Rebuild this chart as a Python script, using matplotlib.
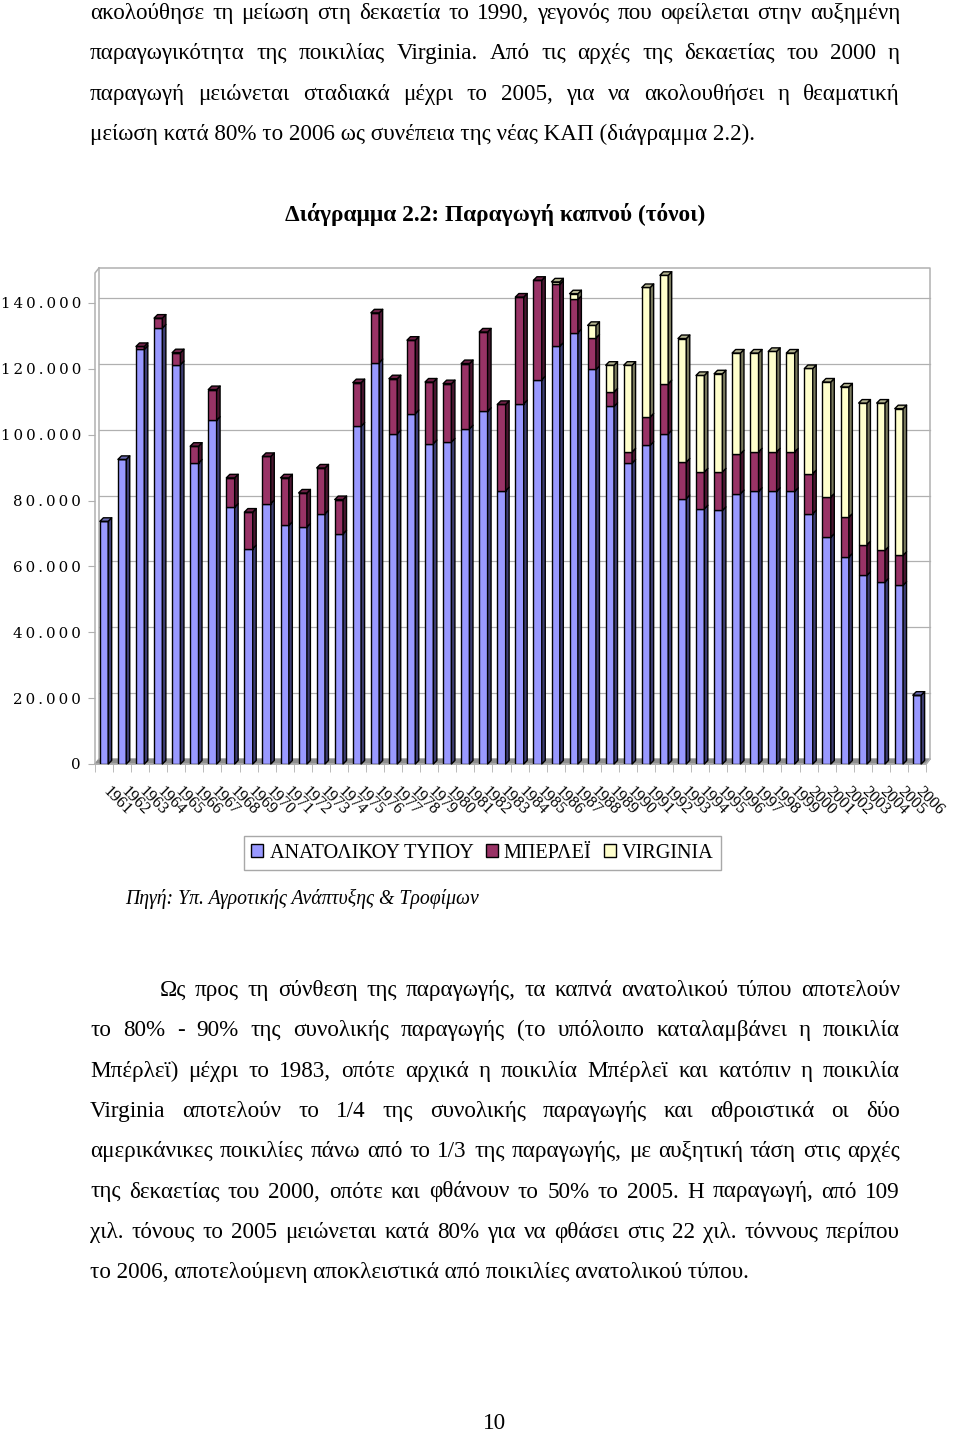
import numpy as np
import matplotlib
matplotlib.use("Agg")
import matplotlib.pyplot as plt
from matplotlib.patches import Patch
from matplotlib.collections import PolyCollection
from matplotlib.transforms import ScaledTranslation

# --- data (tonnes) ---
years = list(range(1961, 2007))
eastern = [73700, 92500, 125900, 132400, 121300, 91400, 104400, 78000, 65400, 79100,
           72500, 72000, 76000, 69900, 102600, 121900, 100300, 106400, 97300, 97800,
           101800, 107100, 83000, 109400, 116700, 126900, 131000, 119800, 108600, 91400,
           96800, 100300, 80600, 77500, 77000, 82100, 82800, 82800, 82800, 76000,
           68900, 62900, 57300, 55300, 54300, 20900]
burley = [0, 0, 900, 3000, 3600, 5100, 9300, 8900, 11100, 14300,
          14400, 10300, 13900, 10400, 13200, 15100, 16700, 22300, 18700, 17700,
          19800, 24100, 26200, 32400, 30200, 18800, 10100, 9600, 4400, 3400,
          8600, 15200, 11100, 11200, 11700, 12100, 12000, 12000, 12000, 12200,
          12200, 12100, 9300, 9600, 9100, 0]
virginia = [0] * 25 + [700, 1700, 3800, 8100, 26300,
                       39300, 32900, 37500, 29300, 29800, 30600, 30000, 30500, 30000, 31900,
                       34900, 39500, 43000, 44700, 44500, 0]
series_names = ["ΑΝΑΤΟΛΙΚΟΥ ΤΥΠΟΥ", "ΜΠΕΡΛΕΪ", "VIRGINIA"]
front_cols = ["#9999FF", "#993366", "#FFFFCC"]
side_cols = ["#3d3d73", "#4a1530", "#7a7a5e"]
top_cols = ["#6b6bb3", "#6e2247", "#b3b38f"]
yticks = list(range(0, 140001, 20000))

para1 = [
    ("ακολούθησε τη μείωση στη δεκαετία το 1990, γεγονός που οφείλεται στην αυξημένη", True),
    ("παραγωγικότητα της ποικιλίας Virginia. Από τις αρχές της δεκαετίας του 2000 η", True),
    ("παραγωγή μειώνεται σταδιακά μέχρι το 2005, για να ακολουθήσει η θεαματική", True),
    ("μείωση κατά 80% το 2006 ως συνέπεια της νέας ΚΑΠ (διάγραμμα 2.2).", False),
]
para2 = [
    ("Ως προς τη σύνθεση της παραγωγής, τα καπνά ανατολικού τύπου αποτελούν", True),
    ("το 80% - 90% της συνολικής παραγωγής (το υπόλοιπο καταλαμβάνει η ποικιλία", True),
    ("Μπέρλεϊ) μέχρι το 1983, οπότε αρχικά η ποικιλία Μπέρλεϊ και κατόπιν η ποικιλία", True),
    ("Virginia αποτελούν το 1/4 της συνολικής παραγωγής και αθροιστικά οι δύο", True),
    ("αμερικάνικες ποικιλίες πάνω από το 1/3 της παραγωγής, με αυξητική τάση στις αρχές", True),
    ("της δεκαετίας του 2000, οπότε και φθάνουν το 50% το 2005. Η παραγωγή, από 109", True),
    ("χιλ. τόνους το 2005 μειώνεται κατά 80% για να φθάσει στις 22 χιλ. τόννους περίπου", True),
    ("το 2006, αποτελούμενη αποκλειστικά από ποικιλίες ανατολικού τύπου.", False),
]
title = "Διάγραμμα 2.2: Παραγωγή καπνού (τόνοι)"
source = "Πηγή: Υπ. Αγροτικής Ανάπτυξης & Τροφίμων"

W, H = 960, 1433
SERIF = "Liberation Serif"
BODY = 16.7

fig = plt.figure(figsize=(W / 100, H / 100), dpi=100)
page = fig.add_axes([0, 0, 1, 1])
page.set_xlim(0, W)
page.set_ylim(H, 0)
page.axis("off")
renderer = fig.canvas.get_renderer()


def put_line(s, y, x0, x1, justify):
    if not justify:
        page.text(x0, y, s, family=SERIF, fontsize=BODY, va="baseline")
        return
    words = s.split()
    txts = [page.text(0, y, w, family=SERIF, fontsize=BODY, va="baseline") for w in words]
    widths = [t.get_window_extent(renderer).width for t in txts]
    gap = (x1 - x0 - sum(widths)) / (len(words) - 1)
    x = x0
    for t, w in zip(txts, widths):
        t.set_x(x)
        x += w + gap


for i, (s, j) in enumerate(para1):
    put_line(s, 19 + i * 40.3, 90, 900, j)
for i, (s, j) in enumerate(para2):
    put_line(s, 996 + i * 40.3, 160 if i == 0 else 90, 900, j)

page.text(495, 221, title, family=SERIF, fontsize=16.8, weight="bold", ha="center", va="baseline")
page.text(125, 904, source, family=SERIF, fontsize=14.2, style="italic", va="baseline")
page.text(495, 1429, "10", family=SERIF, fontsize=BODY, ha="center", va="baseline")

# --- chart (pseudo 3D like the Excel original) ---
L, R, T, B = 95, 926, 273, 764
ax = fig.add_axes([L / W, 1 - B / H, (R - L) / W, (B - T) / H])
ax.patch.set_alpha(0)
n = len(years)
YMAX = 149100
ax.set_xlim(-0.5, n - 0.5)
ax.set_ylim(0, YMAX)
for sp in ax.spines.values():
    sp.set_visible(False)

ux = n / (R - L)          # data units per pixel
uy = YMAX / (B - T)
wdx, wdy = 4 * ux, 5 * uy   # back wall offset
bdx, bdy = 3.5 * ux, 3.5 * uy  # bar depth
grid_c = "#b0b0b0"

# walls, floor and gridlines
xl, xr = -0.5, n - 0.5
ax.fill([xl, xr, xr + wdx, xl + wdx], [0, 0, wdy, wdy], color="#8f8f8f", zorder=1, clip_on=False)
for v in yticks[1:]:
    ax.plot([xl + wdx, xr + wdx], [v + wdy] * 2, color=grid_c, lw=0.9, zorder=0, clip_on=False)
ax.plot([xl + wdx, xr + wdx, xr + wdx], [YMAX + wdy, YMAX + wdy, wdy], color=grid_c, lw=1.1, clip_on=False)
ax.plot([xl + wdx, xl + wdx], [wdy, YMAX + wdy], color=grid_c, lw=1.1, clip_on=False)
ax.plot([xl, xl, xl + wdx], [0, YMAX, YMAX + wdy], color=grid_c, lw=1.1, clip_on=False)
ax.plot([xl, xr, xr + wdx], [0, 0, wdy], color=grid_c, lw=1.1, clip_on=False)

x = np.arange(n)
bw = 0.46
vals = [np.array(eastern), np.array(burley), np.array(virginia)]
bottoms = [np.zeros(n), vals[0], vals[0] + vals[1]]
total = vals[0] + vals[1] + vals[2]
for k in range(3):
    ax.bar(x, vals[k], bw, bottom=bottoms[k], color=front_cols[k], edgecolor="black",
           lw=1.0, zorder=3, label=series_names[k])
    sides, tops = [], []
    for i in range(n):
        if vals[k][i] <= 0:
            continue
        b0, t0 = bottoms[k][i], bottoms[k][i] + vals[k][i]
        xr_ = x[i] + bw / 2
        sides.append([(xr_, b0), (xr_ + bdx, b0 + bdy), (xr_ + bdx, t0 + bdy), (xr_, t0)])
        if np.isclose(t0, total[i]):
            xl_ = x[i] - bw / 2
            tops.append([(xl_, t0), (xl_ + bdx, t0 + bdy), (xr_ + bdx, t0 + bdy), (xr_, t0)])
    ax.add_collection(PolyCollection(sides, facecolors=side_cols[k], edgecolors="black",
                                     linewidths=1.0, zorder=3, clip_on=False))
    if tops:
        ax.add_collection(PolyCollection(tops, facecolors=top_cols[k], edgecolors="black",
                                         linewidths=1.0, zorder=4, clip_on=False))

# axes ticks and labels
ax.set_yticks(yticks)
ax.set_yticklabels(["\u2009".join(f"{v:,}".replace(",", ".")) for v in yticks],
                   family=["DejaVu Serif", "DejaVu Sans"], fontsize=10.8)
ax.tick_params(axis="y", length=5, color=grid_c, pad=5)
ax.set_xticks(x)
ax.set_xticks(np.arange(n + 1) - 0.5, minor=True)
ax.tick_params(axis="x", which="major", length=0, pad=14)
ax.tick_params(axis="x", which="minor", length=6, color=grid_c)
ax.set_xticklabels([str(y) for y in years], rotation=-45, ha="left", va="top",
                   rotation_mode="anchor", family=SERIF, fontsize=12)
shift = ScaledTranslation(0.07, 0, fig.dpi_scale_trans)
for lbl in ax.get_xticklabels():
    lbl.set_transform(lbl.get_transform() + shift)

handles = [Patch(facecolor=front_cols[k], edgecolor="black", label=series_names[k]) for k in range(3)]
fig.legend(handles=handles, loc="center", bbox_to_anchor=(482.5 / W, 1 - 853 / H), ncol=3,
           frameon=True, fancybox=False, edgecolor="#a8a8a8", framealpha=1,
           prop={"family": SERIF, "size": 14.6}, handlelength=0.6, handleheight=0.6,
           handletextpad=0.3, columnspacing=0.6, borderpad=0.35)

fig.savefig("out.png", dpi=100)
